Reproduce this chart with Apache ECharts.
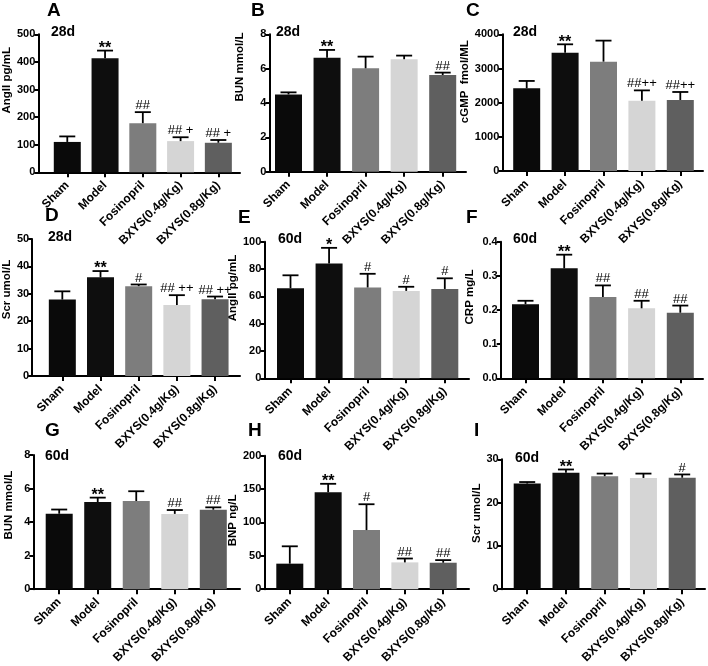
<!DOCTYPE html>
<html><head><meta charset="utf-8">
<script src="https://cdn.jsdelivr.net/npm/echarts@6/dist/echarts.min.js"></script>
<style>html,body{margin:0;padding:0;background:#fff}#c{width:708px;height:666px}</style>
</head><body><div id="c"></div>
<script>
// ---- data ----
const categories = ['Sham', 'Model', 'Fosinopril', 'BXYS(0.4g/Kg)', 'BXYS(0.8g/Kg)'];

const angII28Mean = [110, 413, 178, 113, 107];
const angII28Err  = [20, 28, 40, 14, 10];
const angII28Sig  = ['', '**', '##', '## +', '## +'];

const bun28Mean = [4.5, 6.64, 6.02, 6.55, 5.63];
const bun28Err  = [0.12, 0.45, 0.68, 0.21, 0.14];
const bun28Sig  = ['', '**', '', '', '##'];

const cgmp28Mean = [2420, 3463, 3200, 2059, 2078];
const cgmp28Err  = [215, 244, 615, 300, 234];
const cgmp28Sig  = ['', '**', '', '##++', '##++'];

const scr28Mean = [27.9, 36.0, 32.8, 25.9, 28.0];
const scr28Err  = [3.0, 2.3, 0.6, 3.6, 1.0];
const scr28Sig  = ['', '**', '#', '## ++', '## ++'];

const angII60Mean = [66, 84, 66.5, 64, 65.4];
const angII60Err  = [9.4, 11.5, 10, 3, 7.8];
const angII60Sig  = ['', '*', '#', '#', '#'];

const crp60Mean = [0.217, 0.322, 0.238, 0.205, 0.192];
const crp60Err  = [0.01, 0.04, 0.034, 0.022, 0.021];
const crp60Sig  = ['', '**', '##', '##', '##'];

const bun60Mean = [4.5, 5.2, 5.26, 4.49, 4.74];
const bun60Err  = [0.25, 0.26, 0.58, 0.23, 0.14];
const bun60Sig  = ['', '**', '', '##', '##'];

const bnp60Mean = [38.3, 145.3, 88.6, 40.2, 39.7];
const bnp60Err  = [26, 12.6, 38.7, 5.8, 3.9];
const bnp60Sig  = ['', '**', '#', '##', '##'];

const scr60Mean = [24.4, 26.9, 26.1, 25.7, 25.75];
const scr60Err  = [0.35, 0.75, 0.6, 1.0, 0.75];
const scr60Sig  = ['', '**', '', '', '#'];

const panelLetters = ['A', 'B', 'C', 'D', 'E', 'F', 'G', 'H', 'I'];
const panelDays = ['28d', '28d', '28d', '28d', '60d', '60d', '60d', '60d', '60d'];
const yNames = ['AngII pg/mL', 'BUN mmol/L', 'cGMP  fmol/ML', 'Scr umol/L', 'AngII pg/mL', 'CRP mg/L', 'BUN mmol/L', 'BNP ng/L', 'Scr umol/L'];
const yMaxes = [500, 8, 4000, 50, 100, 0.4, 8, 200, 30];
const ySteps = [100, 2, 1000, 10, 20, 0.1, 2, 50, 10];
const yDecimals = [0, 0, 0, 0, 0, 1, 0, 0, 0];

const panelData = [
  [angII28Mean, angII28Err, angII28Sig],
  [bun28Mean, bun28Err, bun28Sig],
  [cgmp28Mean, cgmp28Err, cgmp28Sig],
  [scr28Mean, scr28Err, scr28Sig],
  [angII60Mean, angII60Err, angII60Sig],
  [crp60Mean, crp60Err, crp60Sig],
  [bun60Mean, bun60Err, bun60Sig],
  [bnp60Mean, bnp60Err, bnp60Sig],
  [scr60Mean, scr60Err, scr60Sig]
];

// ---- layout & style ----
const FONT = "'Liberation Sans', Arial, sans-serif";
const barColors = ['#0a0a0a', '#0e0e0e', '#7d7d7d', '#d5d5d5', '#5f5f5f'];
const layout = [
  {axisX: 35,    first: 64.5,  last: 218,   end: 240, top: 34.3,  zero: 172.3, nameGap: 25, nameShift: 23, lx: 47,  ly: 1,   dx: 51,  dy: 25},
  {axisX: 269.3, first: 288.5, last: 442.7, end: 466, top: 34.3,  zero: 171.7, nameGap: 23, nameShift: 36, lx: 251, ly: 1,   dx: 276, dy: 25},
  {axisX: 502.3, first: 526.7, last: 680.3, end: 703, top: 34.3,  zero: 171,   nameGap: 26, nameShift: 21, lx: 466, ly: 1,   dx: 513, dy: 25},
  {axisX: 30,    first: 60.5,  last: 214.8, end: 240, top: 239,   zero: 376,   nameGap: 17, nameShift: 18, lx: 45,  ly: 206, dx: 48,  dy: 230},
  {axisX: 264.3, first: 290.5, last: 444.8, end: 469, top: 241.7, zero: 378.3, nameGap: 16, nameShift: 22, lx: 238, ly: 208, dx: 278, dy: 232},
  {axisX: 500.7, first: 525.5, last: 680.3, end: 703, top: 241.7, zero: 378.3, nameGap: 25, nameShift: 13, lx: 466, ly: 208, dx: 513, dy: 232},
  {axisX: 33.3,  first: 59.2,  last: 213.3, end: 240, top: 455,   zero: 592.3, nameGap: 18, nameShift: 17, lx: 45,  ly: 421, dx: 45,  dy: 449},
  {axisX: 264.3, first: 289.8, last: 443.2, end: 469, top: 455.7, zero: 593.3, nameGap: 25, nameShift: 2,  lx: 248, ly: 421, dx: 278, dy: 449},
  {axisX: 501.7, first: 527.2, last: 682.2, end: 705, top: 459.3, zero: 595.7, nameGap: 19, nameShift: 11, lx: 474, ly: 421, dx: 515, dy: 451}
];

const grid = [], xAxis = [], yAxis = [], series = [], title = [];
const idx = categories.map((c, k) => k);

panelData.forEach((pd, i) => {
  const [mean, err, sig] = pd;
  const L = layout[i];
  const step = (L.last - L.first) / 4;
  const xmin = -(L.first - L.axisX) / step;
  const xmax = (categories.length - 1) + (L.end - L.last) / step;
  grid.push({left: L.axisX, top: L.top, width: L.end - L.axisX, height: L.zero - L.top});
  xAxis.push({
    gridIndex: i, type: 'value', min: xmin, max: xmax,
    splitLine: {show: false},
    axisLine: {show: true, onZero: false, lineStyle: {color: '#000', width: 2}},
    axisTick: {show: true, customValues: idx, length: 5, lineStyle: {color: '#000', width: 2}},
    axisLabel: {show: true, customValues: idx, formatter: v => categories[Math.round(v)], rotate: 45, margin: 11,
      color: '#000', fontWeight: 'bold', fontSize: 12, fontFamily: FONT}
  });
  const dec = yDecimals[i];
  yAxis.push({
    gridIndex: i, type: 'value', min: 0, max: yMaxes[i], interval: ySteps[i],
    splitLine: {show: false},
    axisLine: {show: true, onZero: false, lineStyle: {color: '#000', width: 2}},
    axisTick: {show: true, length: 4, lineStyle: {color: '#000', width: 2}},
    axisLabel: {margin: 3, color: '#000', fontWeight: 'bold', fontSize: 11, fontFamily: FONT,
      formatter: v => v.toFixed(dec)},
    name: yNames[i], nameLocation: 'middle', nameGap: L.nameGap,
    nameTextStyle: {color: '#000', fontWeight: 'bold', fontSize: 11.5, fontFamily: FONT,
      padding: [0, 0, 0, 2 * L.nameShift]}
  });
  series.push({
    type: 'bar', xAxisIndex: i, yAxisIndex: i, barWidth: 27, silent: true,
    data: mean.map((v, k) => ({value: [k, v], itemStyle: {color: barColors[k]}}))
  });
  series.push({
    type: 'custom', xAxisIndex: i, yAxisIndex: i, silent: true, clip: false, z: 5,
    encode: {x: 0, y: 1},
    data: mean.map((v, k) => [k, v, err[k]]),
    renderItem: (params, api) => {
      const x = api.value(0), m = api.value(1), e = api.value(2);
      const b = api.coord([x, m]), t = api.coord([x, m + e]);
      const children = [
        {type: 'line', shape: {x1: b[0], y1: b[1], x2: t[0], y2: t[1]}, style: {stroke: '#000', lineWidth: 1.8}},
        {type: 'line', shape: {x1: t[0] - 8, y1: t[1], x2: t[0] + 8, y2: t[1]}, style: {stroke: '#000', lineWidth: 1.8}}
      ];
      const s = sig[params.dataIndex];
      if (s) {
        const star = s.indexOf('*') >= 0;
        children.push({type: 'text', x: t[0], y: t[1] + (star ? 6 : 0),
          style: {text: s, fill: '#000', align: 'center', verticalAlign: 'bottom',
            font: (star ? 'bold 16px ' : '13px ') + FONT}});
      }
      return {type: 'group', children};
    }
  });
  title.push({text: panelLetters[i], left: L.lx, top: L.ly, padding: 0,
    textStyle: {color: '#000', fontWeight: 'bold', fontSize: 19, fontFamily: FONT}});
  title.push({text: panelDays[i], left: L.dx, top: L.dy, padding: 0,
    textStyle: {color: '#000', fontWeight: 'bold', fontSize: 14, fontFamily: FONT}});
});

const chart = echarts.init(document.getElementById('c'), null, {renderer: 'canvas'});
chart.setOption({animation: false, backgroundColor: '#fff', title, grid, xAxis, yAxis, series});
</script>
</body></html>
